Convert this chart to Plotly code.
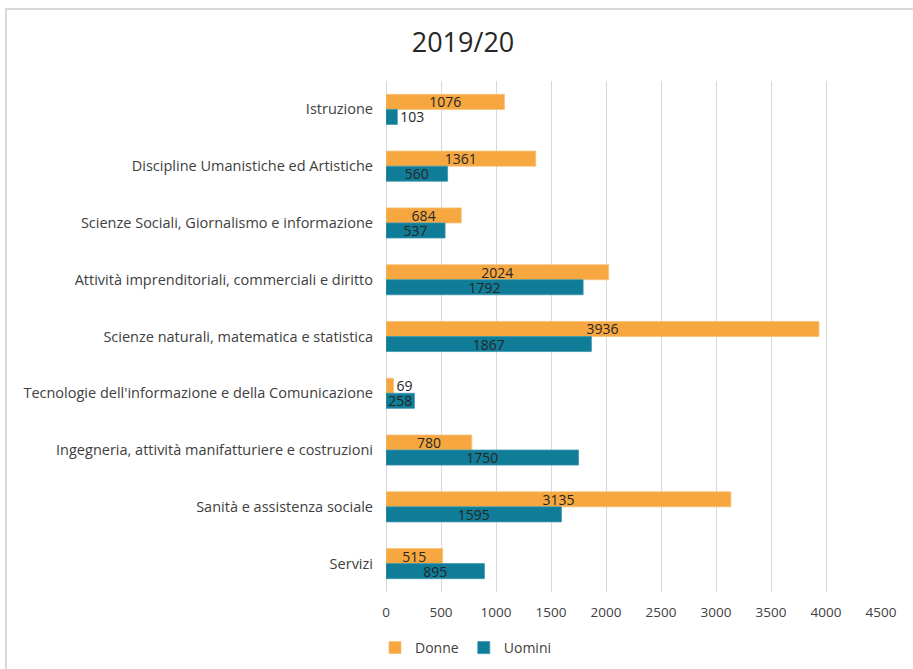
import plotly.graph_objects as go

categories = [
    "Istruzione",
    "Discipline Umanistiche ed Artistiche",
    "Scienze Sociali, Giornalismo e informazione",
    "Attività imprenditoriali, commerciali e diritto",
    "Scienze naturali, matematica e statistica",
    "Tecnologie dell'informazione e della Comunicazione",
    "Ingegneria, attività manifatturiere e costruzioni",
    "Sanità e assistenza sociale",
    "Servizi",
]
donne = [1076, 1361, 684, 2024, 3936, 69, 780, 3135, 515]
uomini = [103, 560, 537, 1792, 1867, 258, 1750, 1595, 895]
x_ticks = [0, 500, 1000, 1500, 2000, 2500, 3000, 3500, 4000, 4500]

W, H = 913, 669
L, R, T, B = 386, 32, 81, 77
pw, ph = W - L - R, H - T - B

def px_x(x):
    return (x - L) / pw

def px_y(y):
    return (H - B - y) / ph

FONT = "Open Sans"
ORANGE = "#F6A740"
TEAL = "#0F7C98"

def positions(vals):
    return ["outside" if v < 200 else "inside" for v in vals]

fig = go.Figure()
fig.add_trace(go.Bar(
    y=categories, x=donne, name="Donne", orientation="h",
    marker=dict(color=ORANGE, line=dict(color="#F8C07A", width=0.8)),
    text=[str(v) for v in donne], textposition=positions(donne),
    insidetextanchor="middle", constraintext="none",
    textfont=dict(family=FONT, size=14, color="#262626"),
    cliponaxis=False,
))
fig.add_trace(go.Bar(
    y=categories, x=uomini, name="Uomini", orientation="h",
    marker=dict(color=TEAL, line=dict(color="#3C95AD", width=0.8)),
    text=[str(v) for v in uomini], textposition=positions(uomini),
    insidetextanchor="middle", constraintext="none",
    textfont=dict(family=FONT, size=14, color="#262626"),
    cliponaxis=False,
))

fig.update_layout(
    width=W, height=H,
    margin=dict(l=L, r=R, t=T, b=B, autoexpand=False),
    paper_bgcolor="white", plot_bgcolor="white",
    barmode="group", bargap=0.47, bargroupgap=0.0,
    font=dict(family=FONT, color="#404040"),
    title=dict(text="2019/20", x=463 / W, y=1 - 43 / H, xref="container",
               yref="container", xanchor="center", yanchor="middle",
               font=dict(family=FONT, size=27, color="#262626")),
    showlegend=True,
    legend=dict(orientation="h", x=px_x(466), y=px_y(648), xanchor="center", yanchor="middle",
                font=dict(family=FONT, size=14, color="#404040"), traceorder="normal",
                itemwidth=30, bgcolor="rgba(0,0,0,0)"),
    xaxis=dict(range=[0, 4500], tickvals=x_ticks, ticktext=[str(t) for t in x_ticks],
               showgrid=True, gridcolor="#D9D9D9", gridwidth=1,
               zeroline=True, zerolinecolor="#D9D9D9", zerolinewidth=1,
               showline=False, ticks="", ticklabelstandoff=10,
               tickfont=dict(family=FONT, size=13.5, color="#404040"), fixedrange=True),
    yaxis=dict(autorange="reversed", showgrid=False, showline=False, ticks="",
               ticklabelstandoff=12,
               tickfont=dict(family=FONT, size=14.5, color="#404040"), fixedrange=True),
    shapes=[dict(type="rect", xref="paper", yref="paper",
                 x0=px_x(6), x1=px_x(W + 20), y0=px_y(H + 20), y1=px_y(9),
                 line=dict(color="#D9D9D9", width=2), fillcolor="rgba(0,0,0,0)", layer="below")],
)

fig.write_html("out.html")
